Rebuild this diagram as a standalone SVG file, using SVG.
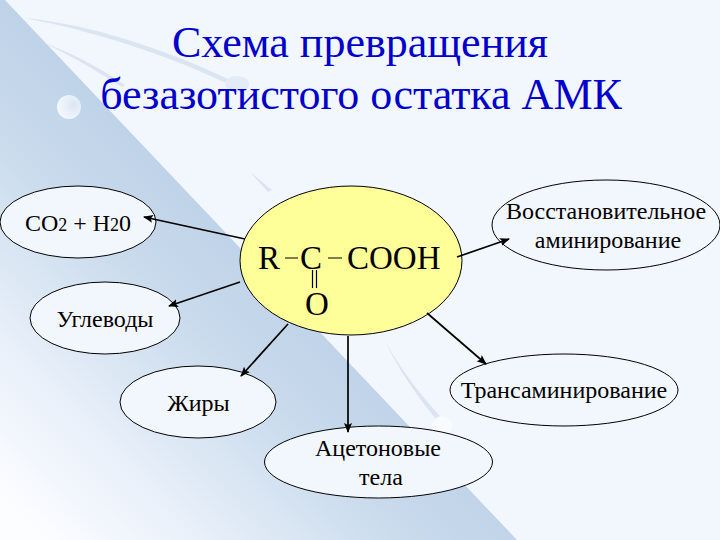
<svg xmlns="http://www.w3.org/2000/svg" width="720" height="540" viewBox="0 0 720 540">
<defs>
<linearGradient id="fade" gradientUnits="userSpaceOnUse" x1="250" y1="250" x2="0" y2="500"><stop offset="0" stop-color="#bfd3e8"/><stop offset="0.25" stop-color="#c8daec"/><stop offset="0.7" stop-color="#eaf1fa"/><stop offset="1" stop-color="#fcfdff"/></linearGradient>
<radialGradient id="ball" cx="0.7" cy="0.4" r="0.8"><stop offset="0" stop-color="#dbe6f3"/><stop offset="1" stop-color="#f8fbff"/></radialGradient>
<marker id="arrow" markerWidth="11" markerHeight="9" refX="9" refY="4" orient="auto" markerUnits="userSpaceOnUse"><path d="M0 0L10 4L0 8L2 4Z" fill="#000"/></marker>
</defs>
<style>
.node{fill:#f2f6fd;stroke:#000;stroke-width:1}
.label{font-family:"Liberation Serif","Times New Roman",serif;font-size:24px;fill:#000;text-anchor:middle}
.sub{font-size:18px}
.title{font-family:"Liberation Serif","Times New Roman",serif;font-size:44px;fill:#0000cc;text-anchor:middle}
.formula{font-family:"Liberation Serif","Times New Roman",serif;font-size:33px;fill:#000}
.conn{stroke:#000;stroke-width:1.700;fill:none;marker-end:url(#arrow)}
.streak{fill:#dbe5f2}
</style>
<rect width="720" height="540" fill="#f2f6fd"/>
<path d="M5 0L517 540H0V0Z" fill="url(#fade)"/>
<path class="streak" d="M24 18C90 24 170 50 240 85L236 88C170 55 90 30 24 18Z"/>
<path class="streak" d="M42 42C70 52 95 65 125 85L122 87C95 70 70 55 42 42Z"/>
<path class="streak" d="M250 172L272 190L268 192Z"/>
<path class="streak" d="M385 340C400 370 425 400 442 418L437 420C420 400 398 370 385 340Z"/>
<ellipse cx="69" cy="107" rx="12" ry="12" fill="url(#ball)"/>
<ellipse cx="237" cy="84" rx="12" ry="8" fill="#e3ebf6"/>
<ellipse cx="442" cy="426" rx="10" ry="10" fill="#f8fbff"/>
<g id="title"><text class="title" x="360" y="57">Схема превращения</text><text class="title" x="361" y="109">безазотистого остатка АМК</text></g>
<g id="n-center"><ellipse cx="351" cy="260.500" rx="111" ry="74.500" fill="#ffff99" stroke="#000"/>
<text class="formula" x="258" y="269">R</text><text class="formula" x="300" y="269">C</text><text class="formula" x="347" y="269">COOH</text><text class="formula" x="305" y="315">O</text>
<path d="M285 258H298M328 258H342M312.500 270V288M316.500 270V288" stroke="#000" fill="none" stroke-width="1.200"/></g>
<g id="n-co2"><ellipse class="node" cx="78" cy="222" rx="78" ry="36"/><text class="label" x="78" y="231">CO<tspan class="sub">2</tspan> + H<tspan class="sub">2</tspan>0</text></g>
<g id="n-carbs"><ellipse class="node" cx="105" cy="318" rx="75" ry="36"/><text class="label" x="105" y="327">Углеводы</text></g>
<g id="n-fats"><ellipse class="node" cx="198" cy="402" rx="78" ry="36"/><text class="label" x="198.500" y="411">Жиры</text></g>
<g id="n-acetone"><ellipse class="node" cx="378.500" cy="462" rx="114" ry="36"/><text class="label" x="378" y="456">Ацетоновые</text><text class="label" x="381" y="485">тела</text></g>
<g id="n-trans"><ellipse class="node" cx="564" cy="390" rx="114" ry="36"/><text class="label" x="564" y="398">Трансаминирование</text></g>
<g id="n-reduct"><ellipse class="node" cx="606" cy="225" rx="114" ry="45"/><text class="label" x="606" y="219">Восстановительное</text><text class="label" x="608" y="248">аминирование</text></g>
<g id="connectors">
<path class="conn" d="M245 239L144 217"/>
<path class="conn" d="M240 282L169 306"/>
<path class="conn" d="M288 324L241 376"/>
<path class="conn" d="M348 336V432"/>
<path class="conn" d="M427 313L486 364"/>
<path class="conn" d="M457 257L509 239"/>
</g>
</svg>
